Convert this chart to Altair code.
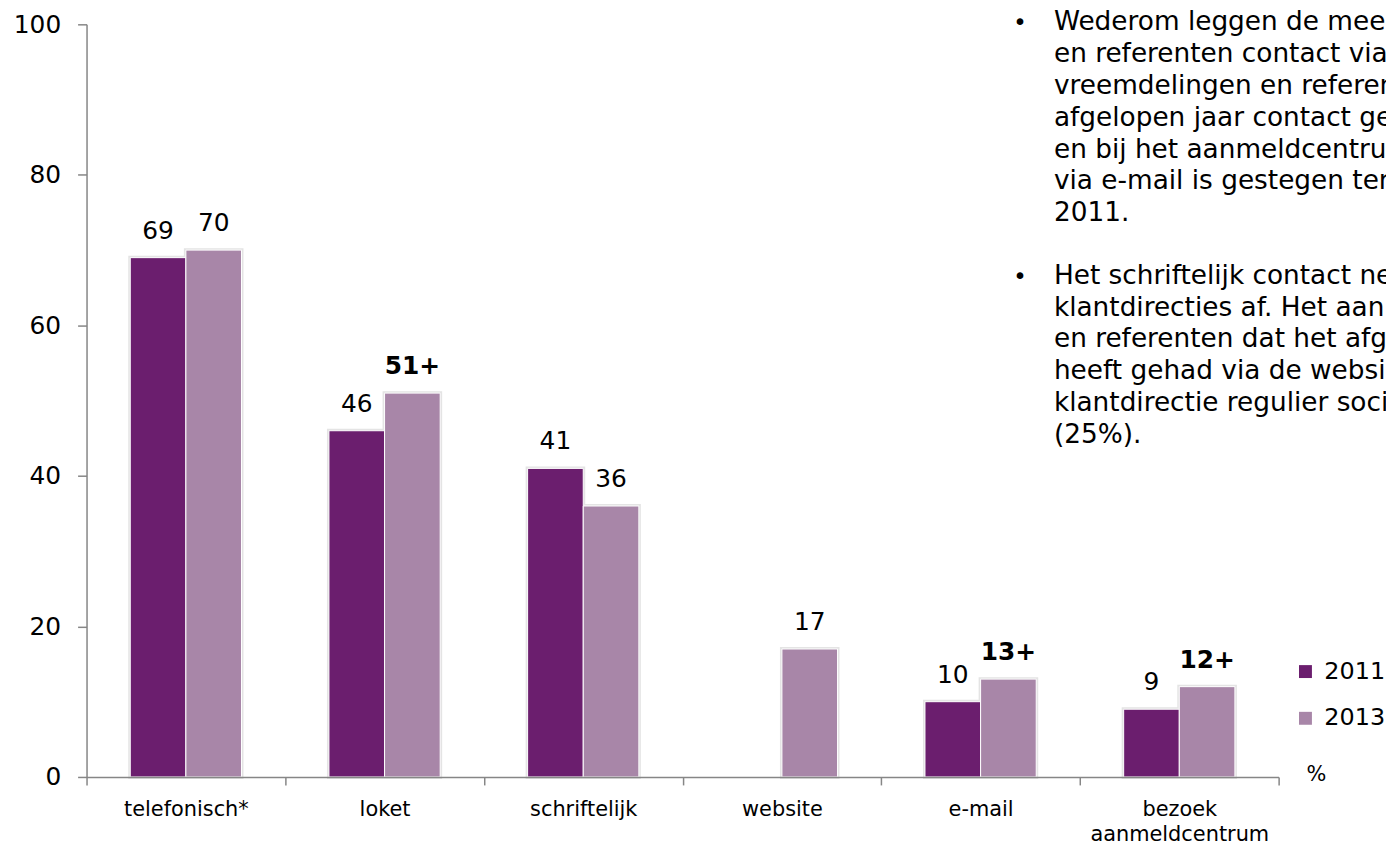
import altair as alt
import pandas as pd

FONT = "DejaVu Sans"

categories = ["telefonisch*", "loket", "schriftelijk", "website", "e-mail", "bezoek aanmeldcentrum"]
values_2011 = [69, 46, 41, None, 10, 9]
values_2013 = [70, 51, 36, 17, 13, 12]
significant_2013 = [False, True, False, False, True, True]
years = ["2011", "2013"]
colors = ["#6B1E6E", "#A886A8"]
y_ticks = [0, 20, 40, 60, 80, 100]
bullet_1 = [
    "Wederom leggen de mee",
    "en referenten contact via",
    "vreemdelingen en referen",
    "afgelopen jaar contact ge",
    "en bij het aanmeldcentru",
    "via e-mail is gestegen ter",
    "2011.",
]
bullet_2 = [
    "Het schriftelijk contact ne",
    "klantdirecties af. Het aan",
    "en referenten dat het afg",
    "heeft gehad via de websi",
    "klantdirectie regulier soci",
    "(25%).",
]
unit_label = "%"

rows = []
for c, a, b, s in zip(categories, values_2011, values_2013, significant_2013):
    if a is not None:
        rows.append(dict(cat=c, year="2011", value=a, label=str(a), bold=False))
    rows.append(dict(cat=c, year="2013", value=b, label=f"{b}+" if s else str(b), bold=s))
df = pd.DataFrame(rows)

x_enc = alt.X(
    "cat:N",
    sort=categories,
    scale=alt.Scale(paddingInner=0, paddingOuter=0),
    axis=alt.Axis(
        title=None, labelAngle=0, labelFont=FONT, labelFontSize=21, labelColor="black",
        domainColor="#868686", domainWidth=1.5, tickColor="#868686", tickWidth=1.5,
        tickSize=8, tickBand="extent", labelPadding=14, labelLineHeight=25,
        labelOverlap=False, labelLimit=400, zindex=1,
        labelExpr="datum.value == 'bezoek aanmeldcentrum' ? ['bezoek', 'aanmeldcentrum'] : datum.label",
    ),
)
xo_enc = alt.XOffset("year:N", scale=alt.Scale(domain=years, paddingInner=0, paddingOuter=0.786))
y_enc = alt.Y(
    "value:Q",
    scale=alt.Scale(domain=[0, 100], nice=False),
    axis=alt.Axis(
        values=y_ticks, grid=False, title=None, labelFont=FONT, labelFontSize=25,
        labelColor="black", domainColor="#868686", domainWidth=1.5, tickColor="#868686",
        tickWidth=1.5, tickSize=9, labelPadding=17, zindex=1,
    ),
)

base = alt.Chart(df)

shadow = base.mark_bar(color="#d6d6d6", stroke="#e4e4e4", strokeWidth=4).encode(
    x=x_enc, xOffset=xo_enc, y=y_enc
)

bars = base.mark_bar(stroke="white", strokeWidth=1).encode(
    x=x_enc,
    xOffset=xo_enc,
    y=y_enc,
    color=alt.Color(
        "year:N",
        scale=alt.Scale(domain=years, range=colors),
        legend=alt.Legend(
            orient="none", legendX=1214, legendY=639, title=None, symbolType="square",
            symbolSize=169, symbolStrokeWidth=0, labelFontSize=24, labelFont=FONT,
            labelColor="black", labelOffset=7, rowPadding=23, padding=0,
        ),
    ),
)

labels_normal = base.transform_filter("!datum.bold").mark_text(
    dy=-19, baseline="alphabetic", fontSize=25, font=FONT, color="black"
).encode(x=x_enc, xOffset=xo_enc, y=y_enc, text="label:N")

labels_bold = base.transform_filter("datum.bold").mark_text(
    dy=-19, baseline="alphabetic", fontSize=25, font=FONT, color="black", fontWeight="bold"
).encode(x=x_enc, xOffset=xo_enc, y=y_enc, text="label:N")


def paragraph(lines, y):
    d = pd.DataFrame({"t": ["\n".join(lines)]})
    return alt.Chart(d).mark_text(
        align="left", baseline="alphabetic", fontSize=26.5, lineHeight=32, lineBreak="\n",
        font=FONT, color="black",
    ).encode(x=alt.value(973), y=alt.value(y), text="t:N")


def bullet(y):
    d = pd.DataFrame({"t": ["•"]})
    return alt.Chart(d).mark_text(
        align="left", baseline="alphabetic", fontSize=23, font=FONT, color="black",
    ).encode(x=alt.value(932), y=alt.value(y), text="t:N")


para_1 = paragraph(bullet_1, 6)
para_2 = paragraph(bullet_2, 261)
dot_1 = bullet(6)
dot_2 = bullet(261)

unit_df = pd.DataFrame({"t": [unit_label]})
unit = alt.Chart(unit_df).mark_text(
    align="left", baseline="middle", fontSize=21, font=FONT, color="black"
).encode(x=alt.value(1227), y=alt.value(755), text="t:N")

chart = alt.layer(
    shadow, bars, labels_normal, labels_bold, para_1, para_2, dot_1, dot_2, unit
).properties(
    width=1199,
    height=757,
    padding={"left": 79, "top": 14, "right": 108, "bottom": 64},
    autosize=alt.AutoSizeParams(type="none"),
).configure_view(stroke=None)

chart.save("out.html", embed_options={"renderer": "svg", "actions": False})
